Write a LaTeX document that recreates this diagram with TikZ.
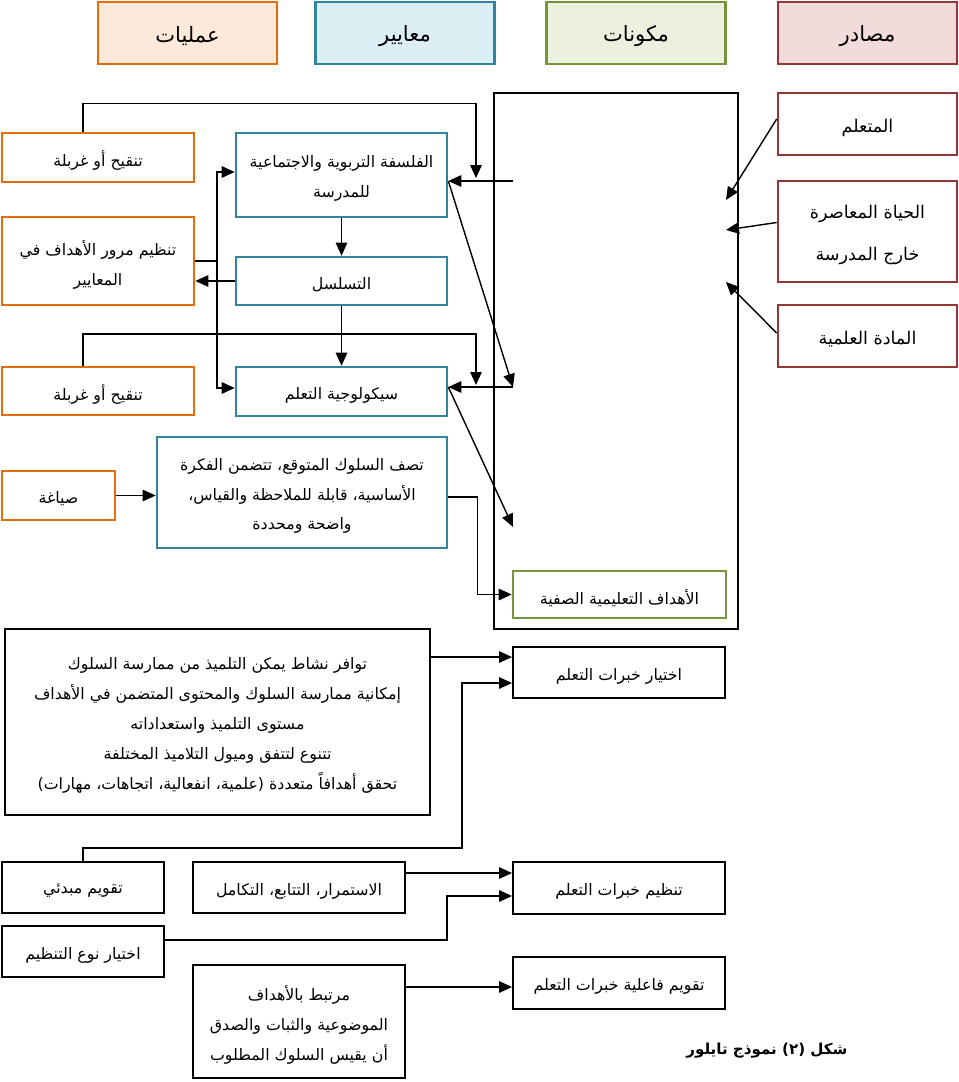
\documentclass[tikz,border=0pt]{standalone}
\usepackage{fontspec}
\usepackage{tikz}
\usetikzlibrary{positioning, arrows.meta}
\TeXXeTstate=1
\newfontfamily\arabicfont[Script=Arabic]{DejaVu Sans}
\newcommand{\artext}[1]{\raisebox{-2pt}[\height][\depth]{\beginR #1\endR}}

\begin{document}
\begin{tikzpicture}[
    % boxes: fixed size, text centred, Arabic font
    box/.style={draw, rectangle, inner sep=2pt, align=center,
                font=\arabicfont\fontsize{9}{17}\selectfont},
    opsbox/.style={box, draw=opsC, line width=1.5pt},
    stdbox/.style={box, draw=stdC, line width=1.5pt},
    cmpbox/.style={box, draw=cmpC, line width=1.5pt},
    srcbox/.style={box, draw=srcC, line width=1.5pt,
                   font=\arabicfont\fontsize{10}{24}\selectfont},
    plainbox/.style={box, draw=black, line width=1.1pt},
    hdr/.style={box, line width=1.5pt, minimum width=3.58cm, minimum height=1.24cm,
                font=\arabicfont\fontsize{12}{24}\selectfont},
    arrow/.style={line width=0.8pt, -{Triangle[length=2.6mm, width=2.3mm]}},
    line/.style={line width=0.8pt}
]

\definecolor{opsC}{RGB}{228,108,10}
\definecolor{opsF}{RGB}{253,233,217}
\definecolor{stdC}{RGB}{49,132,155}
\definecolor{stdF}{RGB}{218,238,243}
\definecolor{cmpC}{RGB}{119,147,60}
\definecolor{cmpF}{RGB}{235,241,222}
\definecolor{srcC}{RGB}{148,54,52}
\definecolor{srcF}{RGB}{242,220,219}

\useasboundingbox (0,0) rectangle (19.18,-21.64);

% Headers
\node[hdr, draw=opsC, fill=opsF] (hOps) at (3.75,-0.66) {\artext{عمليات}};
\node[hdr, draw=stdC, fill=stdF] (hStd) at (8.10,-0.66) {\artext{معايير}};
\node[hdr, draw=cmpC, fill=cmpF] (hCmp) at (12.72,-0.66) {\artext{مكونات}};
\node[hdr, draw=srcC, fill=srcF] (hSrc) at (17.35,-0.66) {\artext{مصادر}};

% Components frame
\node[draw, line width=1.1pt, minimum width=4.88cm, minimum height=10.72cm] (frame) at (12.32,-7.22) {};

% Sources
\node[srcbox, minimum width=3.58cm, minimum height=1.24cm] (learner) at (17.35,-2.48) {\artext{المتعلم}};
\node[srcbox, minimum width=3.58cm, minimum height=2.02cm] (life) at (17.35,-4.63)
  {\artext{الحياة المعاصرة}\\\artext{خارج المدرسة}};
\node[srcbox, minimum width=3.58cm, minimum height=1.24cm] (subject) at (17.35,-6.72) {\artext{المادة العلمية}};

% Standards
\node[stdbox, minimum width=4.22cm, minimum height=1.68cm] (phil) at (6.83,-3.50)
  {\artext{الفلسفة التربوية والاجتماعية}\\\artext{للمدرسة}};
\node[stdbox, minimum width=4.22cm, minimum height=0.96cm] (seq) at (6.83,-5.62) {\artext{التسلسل}};
\node[stdbox, minimum width=4.22cm, minimum height=0.98cm] (psych) at (6.83,-7.83) {\artext{سيكولوجية التعلم}};
\node[stdbox, minimum width=5.80cm, minimum height=2.22cm] (behav) at (6.04,-9.85)
  {\artext{تصف السلوك المتوقع، تتضمن الفكرة}\\\artext{الأساسية، قابلة للملاحظة والقياس،}\\\artext{واضحة ومحددة}};

% Processes
\node[opsbox, minimum width=3.84cm, minimum height=0.98cm] (revA) at (1.96,-3.15) {\artext{تنقيح أو غربلة}};
\node[opsbox, minimum width=3.84cm, minimum height=1.76cm] (route) at (1.96,-5.22)
  {\artext{تنظيم مرور الأهداف في}\\\artext{المعايير}};
\node[opsbox, minimum width=3.84cm, minimum height=0.96cm] (revB) at (1.96,-7.82) {\artext{تنقيح أو غربلة}};
\node[opsbox, minimum width=2.26cm, minimum height=0.98cm] (form) at (1.17,-9.91) {\artext{صياغة}};

% Classroom objectives
\node[cmpbox, minimum width=4.26cm, minimum height=0.94cm] (goals) at (12.39,-11.89) {\artext{الأهداف التعليمية الصفية}};

% Learning experiences
\node[plainbox, minimum width=4.24cm, minimum height=1.02cm] (choose) at (12.38,-13.45) {\artext{اختيار خبرات التعلم}};
\node[plainbox, minimum width=8.50cm, minimum height=3.72cm] (list) at (4.35,-14.44)
  {\artext{توافر نشاط يمكن التلميذ من ممارسة السلوك}\\
   \artext{إمكانية ممارسة السلوك والمحتوى المتضمن في الأهداف}\\
   \artext{مستوى التلميذ واستعداداته}\\
   \artext{تتنوع لتتفق وميول التلاميذ المختلفة}\\
   \artext{تحقق أهدافاً متعددة (علمية، انفعالية، اتجاهات، مهارات)}};
\node[plainbox, minimum width=3.24cm, minimum height=1.02cm] (preEval) at (1.66,-17.75) {\artext{تقويم مبدئي}};
\node[plainbox, minimum width=4.24cm, minimum height=1.02cm] (contin) at (5.98,-17.75) {\artext{الاستمرار، التتابع، التكامل}};
\node[plainbox, minimum width=3.24cm, minimum height=1.02cm] (orgType) at (1.66,-19.03) {\artext{اختيار نوع التنظيم}};
\node[plainbox, minimum width=4.24cm, minimum height=2.26cm] (evalCrit) at (5.98,-20.43)
  {\artext{مرتبط بالأهداف}\\\artext{الموضوعية والثبات والصدق}\\\artext{أن يقيس السلوك المطلوب}};
\node[plainbox, minimum width=4.24cm, minimum height=1.04cm] (organize) at (12.38,-17.76) {\artext{تنظيم خبرات التعلم}};
\node[plainbox, minimum width=4.24cm, minimum height=1.04cm] (evalEff) at (12.38,-19.66) {\artext{تقويم فاعلية خبرات التعلم}};

\node[font=\arabicfont\bfseries\fontsize{8.6}{10}\selectfont] (caption) at (15.34,-20.94) {\artext{شكل (٢) نموذج تايلور}};

% Free ends inside the frame
\coordinate (inLearner) at (14.52,-4.00);
\coordinate (inLife) at (14.52,-4.60);
\coordinate (inSubject) at (14.52,-5.64);
\coordinate (outPhil) at (10.26,-3.62);
\coordinate (outPsych) at (10.26,-7.74);
\coordinate (inBehav) at (10.26,-10.54);
\coordinate (topA) at (9.52,-2.07);
\coordinate (topB) at (9.52,-6.68);
\coordinate (bus) at (4.34,-5.22);
\coordinate (kneeA) at (9.24,-16.96);
\coordinate (kneeB) at (8.94,-18.80);

% Sources into the frame
\draw[arrow] ([yshift=0.1cm]learner.west) -- (inLearner);
\draw[arrow] ([yshift=0.18cm]life.west) -- (inLife);
\draw[arrow] ([yshift=0.06cm]subject.west) -- (inSubject);

% Frame out to the standards, and back in
\draw[arrow] (outPhil) -- (outPhil -| phil.east);
\draw[arrow] (outPhil -| phil.east) -- (outPsych);
\draw[arrow] (outPsych) -- (outPsych -| psych.east);
\draw[arrow] (outPsych -| psych.east) -- (inBehav);

% Revision loops
\draw[arrow] ([xshift=-0.3cm]revA.north) |- (topA) -- (9.52,-3.56);
\draw[arrow] ([xshift=-0.3cm]revB.north) |- (topB) -- (9.52,-7.70);

% Standards chain
\draw[arrow] (phil) -- (seq);
\draw[arrow] (seq) -- (psych);
\draw[arrow] (seq.west) -- (seq.west -| route.east);
\draw[line] (route.east) -- (bus);
\draw[arrow] (bus) |- ([yshift=0.06cm]phil.west);
\draw[arrow] (bus) |- ([yshift=0.07cm]psych.west);

% Formulation to objectives
\draw[arrow] (form.east) -- (form.east -| behav.west);
\draw[arrow] ([yshift=-0.09cm]behav.east) -- ++(0.58,0) |- (goals.west);

% Learning experiences
\draw[arrow] ([yshift=-0.58cm]list.north east) coordinate (l1) -- (l1 -| choose.west);
\draw[arrow] (preEval.north) |- (kneeA) |- ([yshift=-0.21cm]choose.west);
\draw[arrow] ([yshift=0.29cm]contin.east) coordinate (c1) -- (c1 -| organize.west);
\draw[arrow] ([yshift=0.23cm]orgType.east) -| (kneeB) |- ([yshift=-0.16cm]organize.west);
\draw[arrow] ([yshift=0.69cm]evalCrit.east) coordinate (e1) -- (e1 -| evalEff.west);

\end{tikzpicture}
\end{document}
